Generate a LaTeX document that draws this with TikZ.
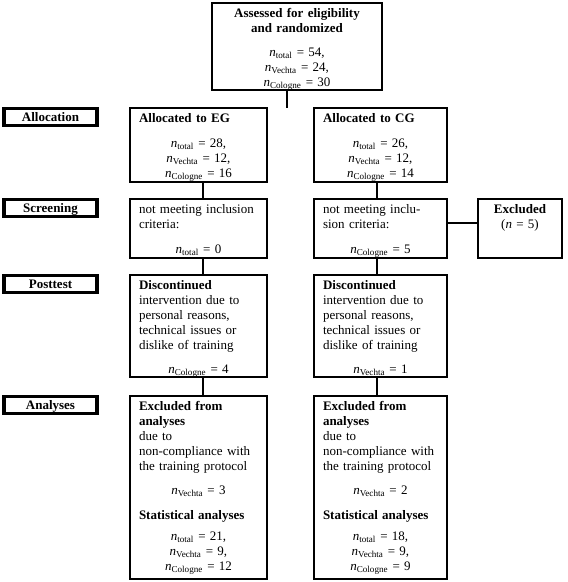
\documentclass[tikz,border=0pt]{standalone}
\usepackage{fontspec}
\setmainfont{Liberation Serif}
\newcommand{\nn}[1]{\textit{n}\textsubscript{#1}}
\begin{document}
\begin{tikzpicture}[x=1pt,y=-1pt,
  box/.style={draw, line width=1.8pt, outer sep=0pt, inner xsep=9pt, inner ysep=4pt,
    anchor=north west, text height=10pt, font=\fontsize{13}{15}\selectfont},
  lbl/.style={draw, line width=3.6pt, outer sep=0pt, inner sep=0pt,
    minimum width=93pt, minimum height=17pt, text height=9pt, text depth=0pt,
    font=\fontsize{13}{15}\selectfont\bfseries},
  conn/.style={line width=1.8pt}]
\useasboundingbox (0,0) rectangle (568,582);

% top box
\node[box, text width=152pt, text depth=69pt] (top) at (212,3)
  {\centering\textbf{Assessed for eligibility}\\\textbf{and randomized}\par\vspace{9pt}%
   \nn{total} = 54,\\\nn{Vechta} = 24,\\\nn{Cologne} = 30\par};

% labels
\node[lbl] (lalloc) at (50.5,117) {Allocation};
\node[lbl] (lscreen) at (50.5,208) {Screening};
\node[lbl] (lpost) at (50.5,284) {Posttest};
\node[lbl] (lana) at (50.5,405) {Analyses};

% allocation
\node[box, text width=119pt, text depth=56pt] (egA) at (130,108)
  {\raggedright\textbf{Allocated to EG}\par\vspace{10pt}\centering
   \nn{total} = 28,\\\nn{Vechta} = 12,\\\nn{Cologne} = 16\par};
\node[box, text width=115pt, text depth=56pt] (cgA) at (314,108)
  {\raggedright\textbf{Allocated to CG}\par\vspace{10pt}\centering
   \nn{total} = 26,\\\nn{Vechta} = 12,\\\nn{Cologne} = 14\par};

% screening
\node[box, text width=119pt, text depth=41pt] (egS) at (130,199)
  {\raggedright not meeting inclusion\\criteria:\par\vspace{10pt}\centering\nn{total} = 0\par};
\node[box, text width=115pt, text depth=41pt] (cgS) at (314,199)
  {\raggedright not meeting inclu-\\sion criteria:\par\vspace{10pt}\centering\nn{Cologne} = 5\par};
\node[box, text width=66pt, text depth=41pt] (exc) at (478,199)
  {\centering\textbf{Excluded}\\(\textit{n} = 5)\par};

% posttest
\node[box, text width=119pt, text depth=84pt] (egP) at (130,275)
  {\raggedright\textbf{Discontinued}\\intervention due to\\personal reasons,\\technical issues or\\dislike of training\par\vspace{9pt}\centering\nn{Cologne} = 4\par};
\node[box, text width=115pt, text depth=84pt] (cgP) at (314,275)
  {\raggedright\textbf{Discontinued}\\intervention due to\\personal reasons,\\technical issues or\\dislike of training\par\vspace{9pt}\centering\nn{Vechta} = 1\par};

% analyses
\node[box, text width=119pt, text depth=165pt] (egN) at (130,396)
  {\raggedright\textbf{Excluded from}\\\textbf{analyses}\\due to\\non-compliance with\\the training protocol\par\vspace{9pt}%
   \centering\nn{Vechta} = 3\par\vspace{10pt}%
   \raggedright\textbf{Statistical analyses}\par\vspace{6pt}%
   \centering\nn{total} = 21,\\\nn{Vechta} = 9,\\\nn{Cologne} = 12\par};
\node[box, text width=115pt, text depth=165pt] (cgN) at (314,396)
  {\raggedright\textbf{Excluded from}\\\textbf{analyses}\\due to\\non-compliance with\\the training protocol\par\vspace{9pt}%
   \centering\nn{Vechta} = 2\par\vspace{10pt}%
   \raggedright\textbf{Statistical analyses}\par\vspace{6pt}%
   \centering\nn{total} = 18,\\\nn{Vechta} = 9,\\\nn{Cologne} = 9\par};

% connectors
\coordinate (split) at (287,108);
\coordinate (egline) at (203,0);
\coordinate (cgline) at (377,0);
\coordinate (excy) at (0,223);
\draw[conn] (top.south -| split) -- (split);
\draw[conn] (egA.south -| egline) -- (egS.north -| egline);
\draw[conn] (egS.south -| egline) -- (egP.north -| egline);
\draw[conn] (egP.south -| egline) -- (egN.north -| egline);
\draw[conn] (cgA.south -| cgline) -- (cgS.north -| cgline);
\draw[conn] (cgS.south -| cgline) -- (cgP.north -| cgline);
\draw[conn] (cgP.south -| cgline) -- (cgN.north -| cgline);
\draw[conn] (cgS.east |- excy) -- (exc.west |- excy);
\end{tikzpicture}
\end{document}
